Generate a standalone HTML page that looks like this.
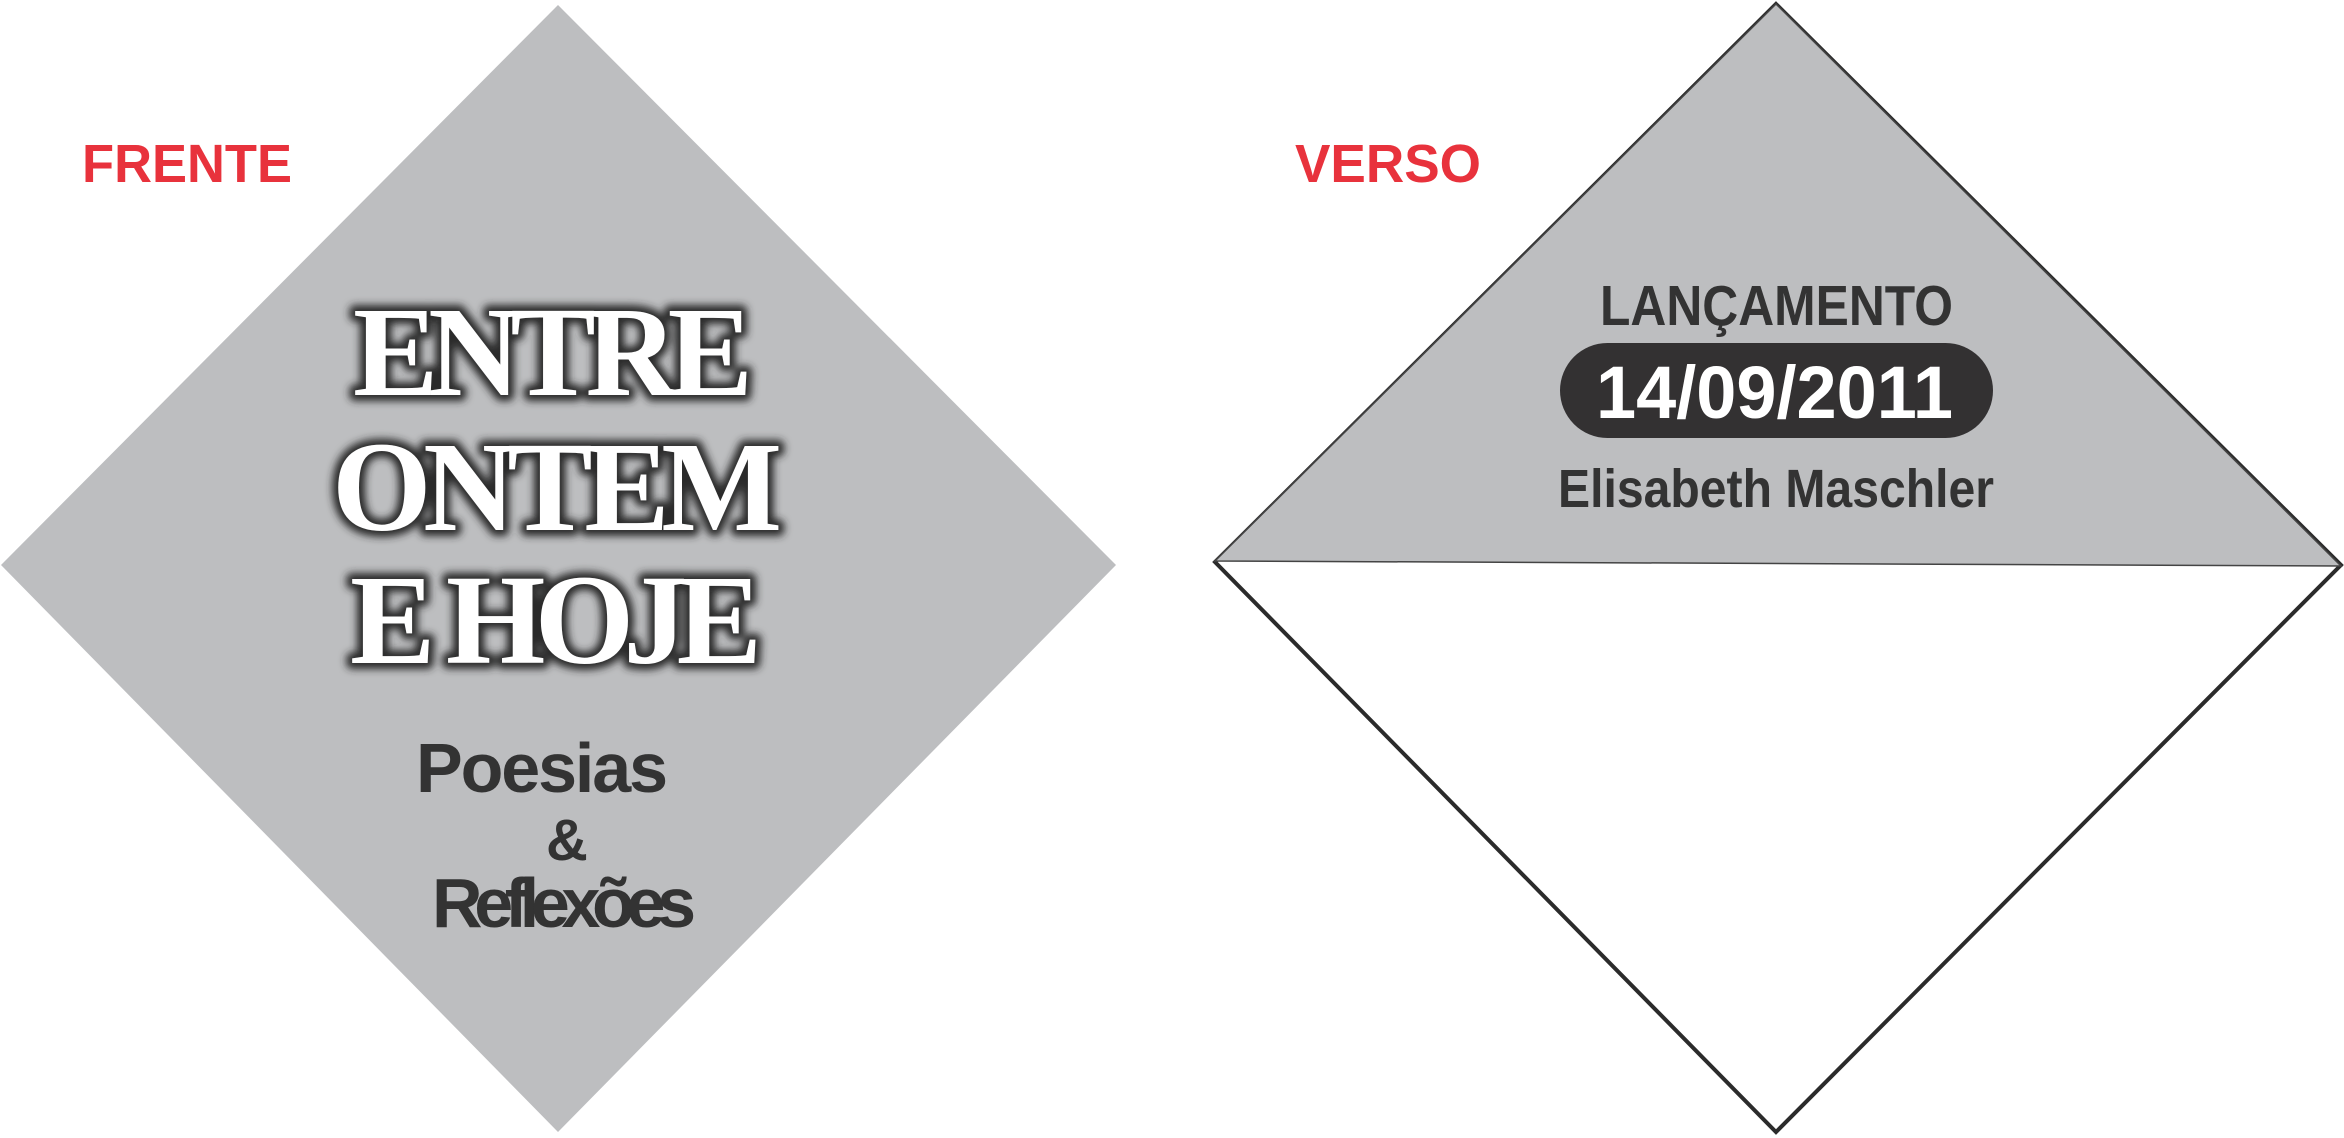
<!DOCTYPE html>
<html><head><meta charset="utf-8"><style>
html,body{margin:0;padding:0;background:#fff;}
svg{display:block}
</style></head><body>
<svg width="2344" height="1138" viewBox="0 0 2344 1138" xmlns="http://www.w3.org/2000/svg">
<defs>
<filter id="glow" x="-20%" y="-20%" width="140%" height="140%"><feGaussianBlur stdDeviation="4"/></filter>
</defs>
<rect width="2344" height="1138" fill="#fff"/>
<polygon points="558,5 1116,565 558,1132 1,565" fill="#bdbec0"/>
<text x="82" y="182" font-family="Liberation Sans, sans-serif" font-weight="bold" font-size="54" fill="#e8323c" textLength="210" lengthAdjust="spacingAndGlyphs">FRENTE</text>
<g font-family="Liberation Serif, serif" font-weight="bold" font-size="128" lengthAdjust="spacingAndGlyphs">
<g fill="#2a2a2a" stroke="#2a2a2a" stroke-width="12" stroke-linejoin="round" filter="url(#glow)">
<text x="353" y="395" textLength="400">ENTRE</text>
<text x="332" y="530" textLength="450">ONTEM</text>
<text x="350" y="663" textLength="412">E HOJE</text>
</g>
<g fill="#fff">
<text x="353" y="395" textLength="400">ENTRE</text>
<text x="332" y="530" textLength="450">ONTEM</text>
<text x="350" y="663" textLength="412">E HOJE</text>
</g>
</g>
<g font-family="Liberation Sans Narrow, Liberation Sans, sans-serif" font-weight="bold" fill="#333" lengthAdjust="spacingAndGlyphs">
<text x="416" y="792" font-size="70" textLength="252">Poesias</text>
<text x="546" y="860" font-size="58" textLength="38">&amp;</text>
<text x="432" y="927" font-size="70" textLength="264">Reflexões</text>
</g>
<polygon points="1776,4 2341,565 1776,1132 1215,562" fill="#fff" stroke="#2b2b2b" stroke-width="4"/>
<polygon points="1776,4 2341,566 1215,561" fill="#bdbec0" stroke="#444" stroke-width="1.5"/>
<text x="1295" y="182" font-family="Liberation Sans, sans-serif" font-weight="bold" font-size="54" fill="#e8323c" textLength="186" lengthAdjust="spacingAndGlyphs">VERSO</text>
<text x="1600" y="325" font-family="Liberation Sans, sans-serif" font-weight="bold" font-size="57" fill="#333" textLength="353" lengthAdjust="spacingAndGlyphs">LANÇAMENTO</text>
<rect x="1560" y="343" width="433" height="95" rx="47.5" fill="#333132"/>
<text x="1596" y="418" font-family="Liberation Sans, sans-serif" font-weight="bold" font-size="74" fill="#fff" textLength="357" lengthAdjust="spacingAndGlyphs">14/09/2011</text>
<text x="1558" y="507" font-family="Liberation Sans, sans-serif" font-weight="bold" font-size="54" fill="#333" textLength="436" lengthAdjust="spacingAndGlyphs">Elisabeth Maschler</text>
</svg>
</body></html>
